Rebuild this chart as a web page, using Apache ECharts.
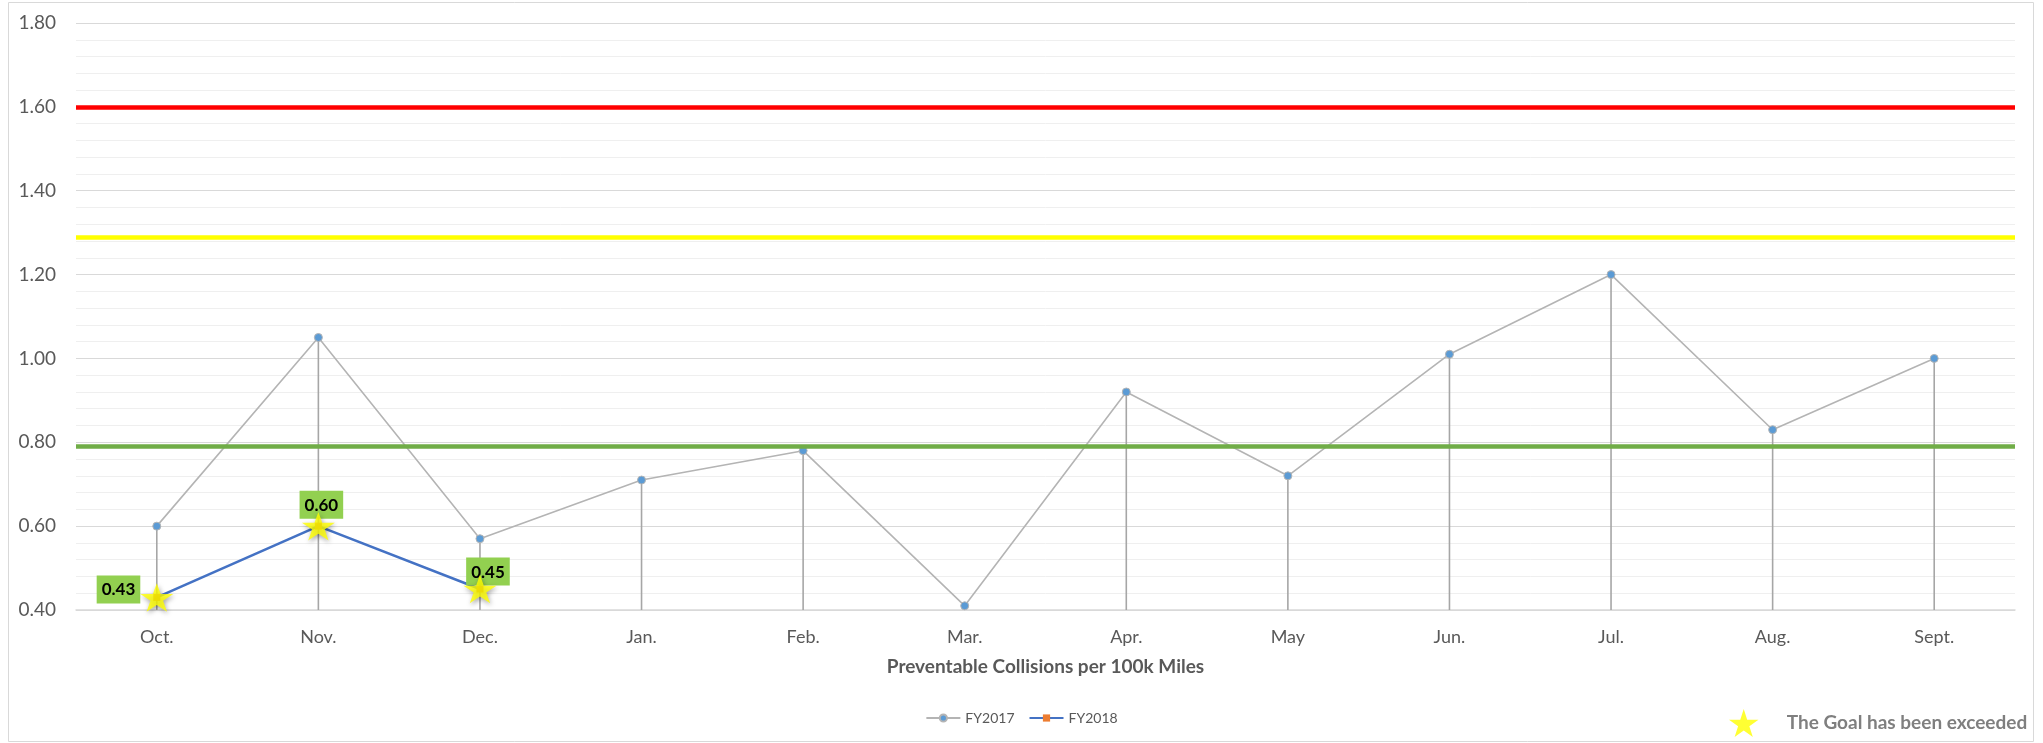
<!DOCTYPE html>
<html><head><meta charset="utf-8">
<script src="https://cdn.jsdelivr.net/npm/echarts@6/dist/echarts.min.js"></script>
<style>html,body{margin:0;padding:0;background:#fff}#c{width:2043px;height:743px}</style>
</head><body><div id="c"></div>
<script>
const months = ['Oct.','Nov.','Dec.','Jan.','Feb.','Mar.','Apr.','May','Jun.','Jul.','Aug.','Sept.'];
const fy2017 = [0.60,1.05,0.57,0.71,0.78,0.41,0.92,0.72,1.01,1.20,0.83,1.00];
const fy2018 = [0.43,0.60,0.45];
const redLimit = 1.60;
const yellowLimit = 1.294;
const goalLimit = 0.792;
const yTicks = {min:0.4, max:1.8, step:0.2};
const xAxisTitle = 'Preventable Collisions per 100k Miles';
const goalText = 'The Goal has been exceeded';

const FONT = 'Lato';
const STAR = 'path://M50,0 L61.2,34.5 L97.6,34.5 L68.2,55.9 L79.4,90.5 L50,69.1 L20.6,90.5 L31.8,55.9 L2.4,34.5 L38.8,34.5 Z';
const labelPlace = [
  {position:'left', distance:13, offset:[0,-8]},
  {position:'top', distance:0, offset:[3,-4]},
  {position:'top', distance:0, offset:[8,0]}
];

const chart = echarts.init(document.getElementById('c'));
chart.setOption({
  animation:false,
  textStyle:{fontFamily:FONT},
  grid:{left:76, right:28, top:23, bottom:133},
  legend:[{
    data:['FY2017','FY2018'],
    left:'center', top:706,
    itemWidth:34, itemHeight:9, itemGap:14,
    textStyle:{fontFamily:FONT, fontSize:14, color:'#595959'}
  },{
    data:[goalText],
    left:1724, top:704,
    itemWidth:76, itemHeight:28,
    textStyle:{fontFamily:FONT, fontSize:19, fontWeight:'bold', color:'#7f7f7f'}
  }],
  graphic:[{type:'rect', shape:{x:8.5, y:2.5, width:2025, height:739}, style:{fill:'none', stroke:'#d9d9d9', lineWidth:1}, silent:true}],
  xAxis:{
    type:'category', data:months, boundaryGap:true,
    axisLine:{lineStyle:{color:'#d9d9d9', width:1.5}},
    axisTick:{show:false},
    axisLabel:{fontFamily:FONT, fontSize:18, color:'#595959', margin:18},
    name:xAxisTitle, nameLocation:'middle', nameGap:47,
    nameTextStyle:{fontFamily:FONT, fontSize:19, fontWeight:'bold', color:'#595959'}
  },
  yAxis:{
    type:'value', min:yTicks.min, max:yTicks.max, interval:yTicks.step,
    axisLine:{show:false}, axisTick:{show:false},
    axisLabel:{fontFamily:FONT, fontSize:19, color:'#595959', margin:20, formatter:v=>v.toFixed(2)},
    splitLine:{lineStyle:{color:'#d9d9d9', width:1.2}},
    minorTick:{show:false, splitNumber:5},
    minorSplitLine:{show:true, lineStyle:{color:'#efefef', width:1}}
  },
  series:[
    {
      name:'drop', type:'bar', data:fy2017, barWidth:1.6, silent:true, z:1,
      itemStyle:{color:'#a6a6a6'},
      markLine:{
        silent:true, symbol:'none', label:{show:false},
        data:[
          {yAxis:redLimit, lineStyle:{color:'#ff0000', width:4.5, type:'solid'}},
          {yAxis:yellowLimit, lineStyle:{color:'#ffff00', width:4.5, type:'solid'}},
          {yAxis:goalLimit, lineStyle:{color:'#70ad47', width:4.5, type:'solid'}}
        ]
      }
    },
    {
      name:'FY2017', type:'line', data:fy2017, z:3,
      symbol:'circle', symbolSize:8, showAllSymbol:true,
      lineStyle:{color:'#b4b4b4', width:1.6},
      itemStyle:{color:'#5b9bd5', borderColor:'#b4b4b4', borderWidth:1}
    },
    {
      name:'FY2018', type:'line', data:fy2018.map((v,i)=>({value:v, label:labelPlace[i]})), z:4,
      symbol:'rect', symbolSize:7,
      lineStyle:{color:'#4472c4', width:2.6},
      itemStyle:{color:'#ed7d31'},
      label:{show:true, formatter:p=>p.value.toFixed(2), backgroundColor:'#92d050',
        padding:[6,5,5,5], fontFamily:FONT, fontSize:17, fontWeight:'bold', color:'#000'}
    },
    {
      name:goalText, type:'scatter', data:fy2018, z:6,
      symbol:STAR, symbolSize:[33,30], symbolKeepAspect:true,
      itemStyle:{color:'#ffff00', shadowBlur:5, shadowColor:'rgba(0,0,0,0.45)', shadowOffsetX:1, shadowOffsetY:2}
    }
  ]
});
</script></body></html>
